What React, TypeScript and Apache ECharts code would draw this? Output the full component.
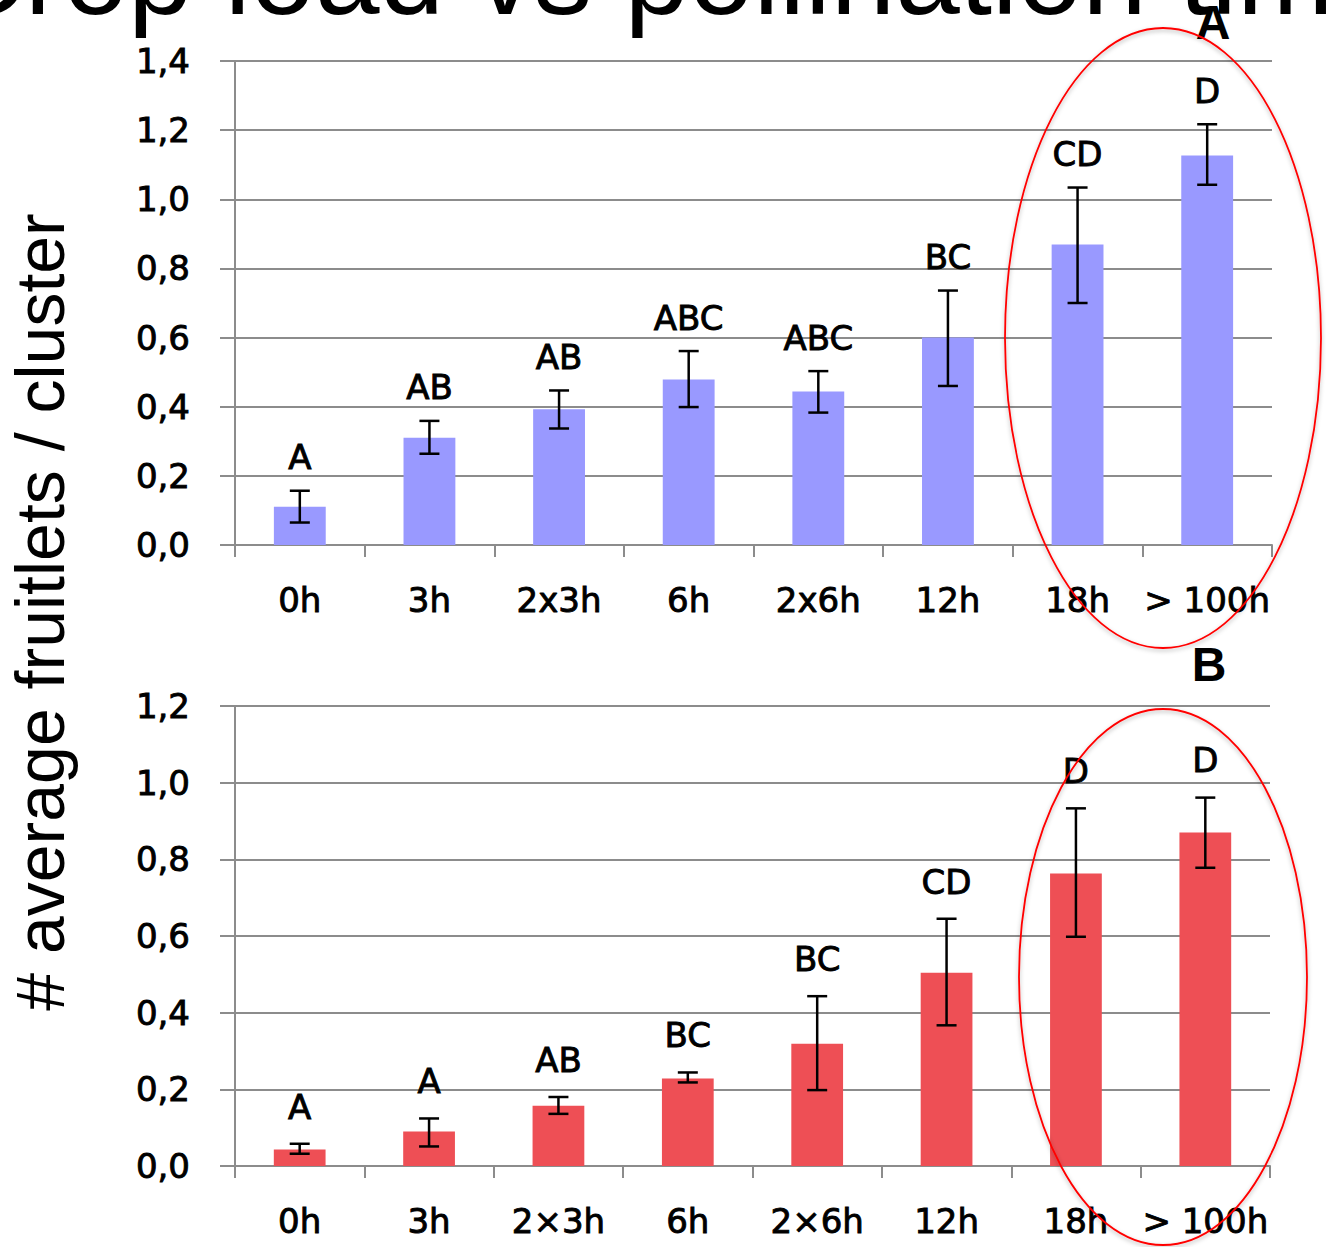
import React, { useEffect, useRef } from "react";
import * as echarts from "echarts";

// ---- data ----
const categoriesTop = ["0h", "3h", "2x3h", "6h", "2x6h", "12h", "18h", "> 100h"];
const categoriesBottom = ["0h", "3h", "2×3h", "6h", "2×6h", "12h", "18h", "> 100h"];

const meansTop = [0.111, 0.31, 0.393, 0.479, 0.444, 0.6, 0.869, 1.127];
const errLowTop = [0.065, 0.264, 0.337, 0.399, 0.383, 0.46, 0.7, 1.042];
const errHighTop = [0.157, 0.359, 0.447, 0.561, 0.503, 0.736, 1.034, 1.217];
const lettersTop = ["A", "AB", "AB", "ABC", "ABC", "BC", "CD", "D"];

const meansBottom = [0.043, 0.09, 0.157, 0.228, 0.319, 0.504, 0.763, 0.87];
const errLowBottom = [0.032, 0.051, 0.136, 0.218, 0.198, 0.367, 0.598, 0.778];
const errHighBottom = [0.058, 0.124, 0.18, 0.244, 0.443, 0.645, 0.933, 0.961];
const lettersBottom = ["A", "A", "AB", "BC", "BC", "CD", "D", "D"];

const yMaxTop = 1.4;
const yMaxBottom = 1.2;
const yInterval = 0.2;

const titleText = "Crop load vs pollination time";
const yTitle = "# average fruitlets / cluster";

// ---- styles ----
const GRID_GRAY = "#8C8C8C";
const LABEL_FONT = '"DejaVu Sans", "Open Sans", sans-serif';
const LABEL_SIZE = 34;
const ARIAL = '"Liberation Sans", Arial, sans-serif';
const LETTER_GAP = 0.097;

function errorSeries(lo: number[], hi: number[], letters: string[], idx: number) {
  return {
    type: "custom",
    xAxisIndex: idx,
    yAxisIndex: idx,
    z: 10,
    data: lo.map((l, i) => [i, l, hi[i]]),
    encode: { x: 0, y: [1, 2] },
    renderItem: (params: any, api: any) => {
      const i = api.value(0);
      const top = api.coord([i, api.value(2)]);
      const bot = api.coord([i, api.value(1)]);
      const lab = api.coord([i, api.value(2) + LETTER_GAP]);
      const hw = 10;
      const style = { stroke: "#000", lineWidth: 2.5 };
      return {
        type: "group",
        children: [
          { type: "line", shape: { x1: top[0], y1: top[1], x2: bot[0], y2: bot[1] }, style },
          { type: "line", shape: { x1: top[0] - hw, y1: top[1], x2: top[0] + hw, y2: top[1] }, style },
          { type: "line", shape: { x1: bot[0] - hw, y1: bot[1], x2: bot[0] + hw, y2: bot[1] }, style },
          {
            type: "text",
            x: lab[0],
            y: lab[1],
            style: {
              text: letters[params.dataIndex],
              fill: "#000",
              stroke: "#000",
              lineWidth: 0.9,
              fontSize: LABEL_SIZE,
              fontFamily: LABEL_FONT,
              align: "center",
              verticalAlign: "middle",
              textAlign: "center",
              textVerticalAlign: "middle",
            },
          },
        ],
      };
    },
  };
}

function xAxis(cats: string[], idx: number) {
  return {
    type: "category",
    gridIndex: idx,
    data: cats,
    boundaryGap: true,
    axisLine: { show: true, lineStyle: { color: GRID_GRAY, width: 2 } },
    axisTick: { show: true, length: 12, lineStyle: { color: GRID_GRAY, width: 2 } },
    axisLabel: {
      color: "#000",
      fontSize: LABEL_SIZE,
      fontFamily: LABEL_FONT,
      textBorderColor: "#000",
      textBorderWidth: 0.9,
      margin: 38,
      interval: 0,
    },
  };
}

function yAxis(max: number, idx: number) {
  return {
    type: "value",
    gridIndex: idx,
    min: 0,
    max,
    interval: yInterval,
    axisLine: { show: true, lineStyle: { color: GRID_GRAY, width: 2 } },
    axisTick: { show: true, length: 15, lineStyle: { color: GRID_GRAY, width: 2 } },
    splitLine: { show: true, lineStyle: { color: GRID_GRAY, width: 2 } },
    axisLabel: {
      color: "#000",
      fontSize: LABEL_SIZE,
      fontFamily: LABEL_FONT,
      textBorderColor: "#000",
      textBorderWidth: 0.9,
      margin: 45,
      formatter: (v: number) => v.toFixed(1).replace(".", ","),
    },
  };
}

export default function App() {
  const ref = useRef<HTMLDivElement>(null);
  useEffect(() => {
    document.body.style.margin = "0";
    document.body.style.overflow = "hidden";
    const chart = echarts.init(ref.current!, undefined, { renderer: "svg" });
    chart.setOption({
      animation: false,
      backgroundColor: "#fff",
      grid: [
        { left: 235, right: 54, top: 61, height: 484 },
        { left: 235, right: 56, top: 706, height: 460 },
      ],
      xAxis: [xAxis(categoriesTop, 0), xAxis(categoriesBottom, 1)],
      yAxis: [yAxis(yMaxTop, 0), yAxis(yMaxBottom, 1)],
      series: [
        {
          type: "bar",
          xAxisIndex: 0,
          yAxisIndex: 0,
          data: meansTop,
          barWidth: "40%",
          itemStyle: { color: "#9999FF" },
        },
        {
          type: "bar",
          xAxisIndex: 1,
          yAxisIndex: 1,
          data: meansBottom,
          barWidth: "40%",
          itemStyle: { color: "#EE4F55" },
        },
        errorSeries(errLowTop, errHighTop, lettersTop, 0),
        errorSeries(errLowBottom, errHighBottom, lettersBottom, 1),
      ],
      graphic: [
        {
          type: "text",
          x: -59,
          y: -26,
          z: 50,
          style: { text: titleText, fill: "#000", font: `116px ${ARIAL}`, align: "left", verticalAlign: "middle" },
        },
        {
          type: "text",
          x: 40,
          y: 612,
          rotation: Math.PI / 2,
          z: 50,
          style: { text: yTitle, fill: "#000", font: `68px ${ARIAL}`, align: "center", verticalAlign: "middle" },
        },
        {
          type: "text",
          x: 1213,
          y: 22,
          z: 50,
          style: { text: "A", fill: "#000", font: `bold 48px ${ARIAL}`, align: "center", verticalAlign: "middle" },
        },
        {
          type: "text",
          x: 1209,
          y: 664,
          z: 50,
          style: { text: "B", fill: "#000", font: `bold 48px ${ARIAL}`, align: "center", verticalAlign: "middle" },
        },
        {
          type: "ellipse",
          z: 100,
          shape: { cx: 1163, cy: 338, rx: 158, ry: 310 },
          style: { fill: "none", stroke: "#FF0000", lineWidth: 1.8, shadowBlur: 4, shadowColor: "rgba(0,0,0,0.3)", shadowOffsetY: 2 },
        },
        {
          type: "ellipse",
          z: 100,
          shape: { cx: 1163, cy: 977, rx: 144, ry: 268 },
          style: { fill: "none", stroke: "#FF0000", lineWidth: 1.8, shadowBlur: 4, shadowColor: "rgba(0,0,0,0.3)", shadowOffsetY: 2 },
        },
      ],
    });
    return () => chart.dispose();
  }, []);
  return <div ref={ref} style={{ position: "absolute", left: 0, top: 0, width: 1326, height: 1247 }} />;
}
